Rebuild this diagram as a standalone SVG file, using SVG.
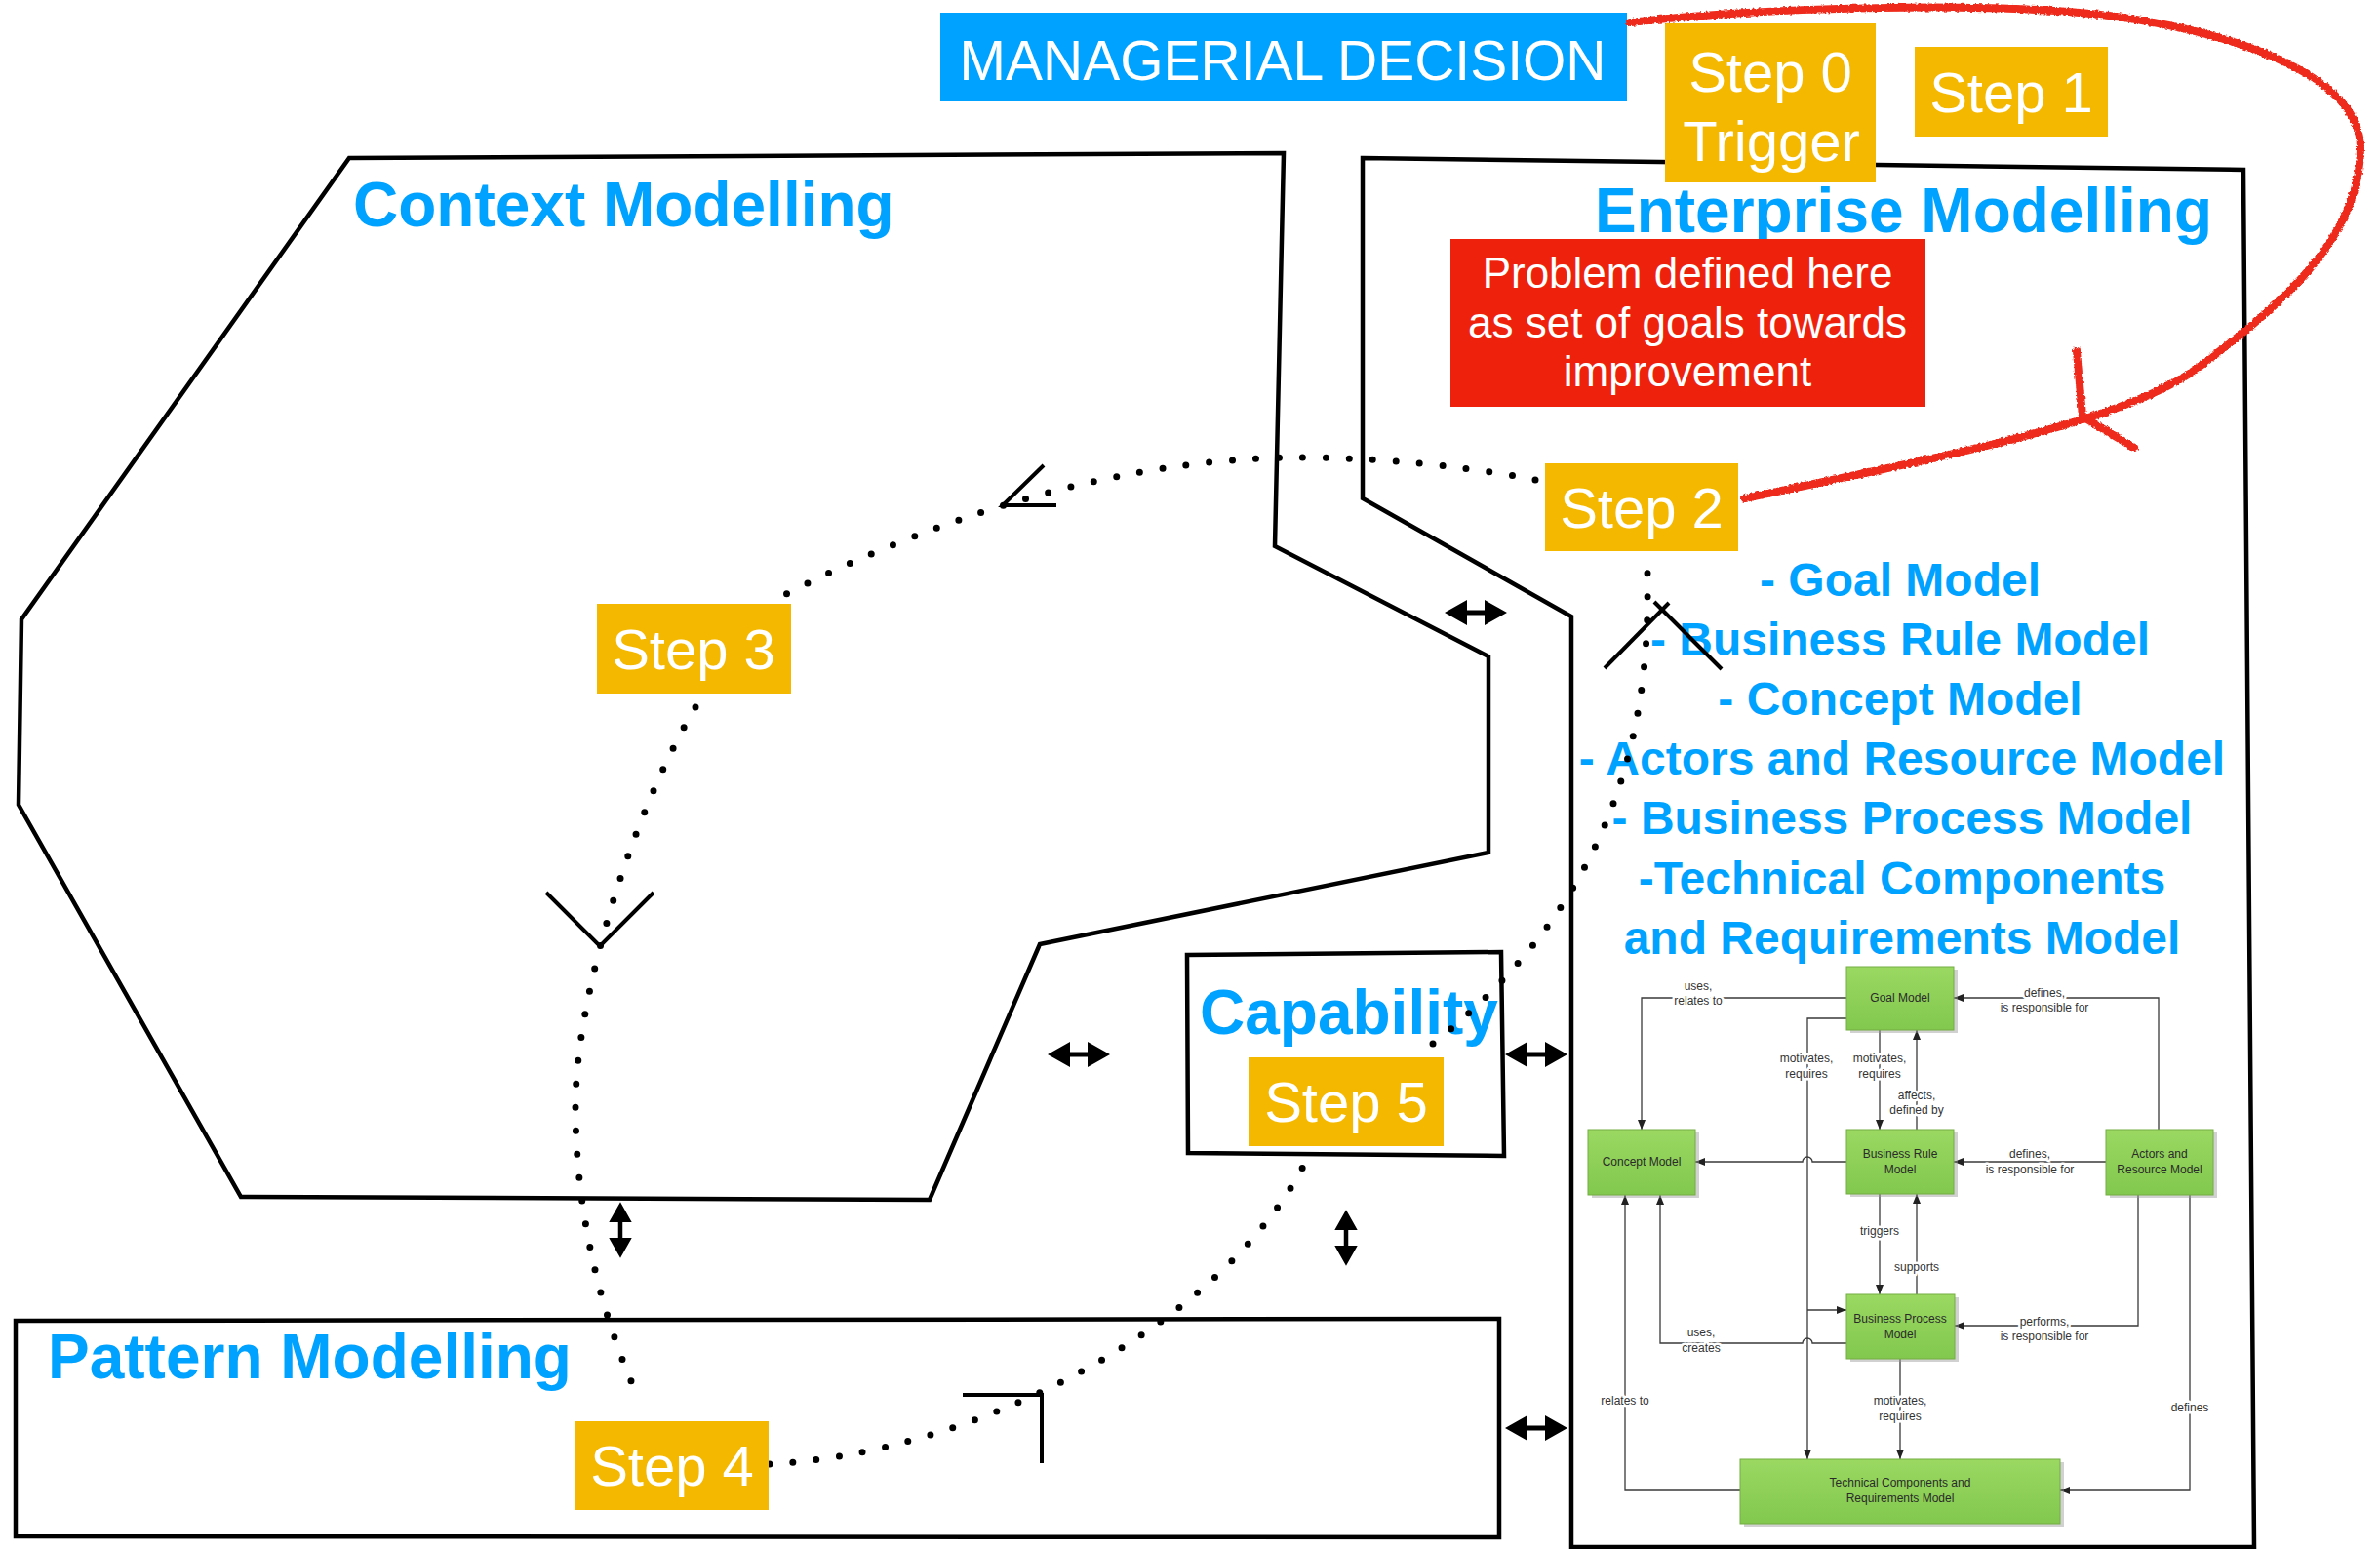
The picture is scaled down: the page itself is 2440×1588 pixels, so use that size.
<svg xmlns="http://www.w3.org/2000/svg" width="2440" height="1588" viewBox="0 0 2440 1588">
<defs>
<style>
.blk{fill:none;stroke:#000;stroke-width:4.5;stroke-linejoin:miter}
.ttl{font-family:'Liberation Sans',Arial,sans-serif;font-weight:bold;font-size:64px;fill:#00a2ff}
.lst{font-family:'Liberation Sans',Arial,sans-serif;font-weight:bold;font-size:48px;fill:#00a2ff;text-anchor:middle}
.stepbox{fill:#f5b800}
.stxt{font-family:'Liberation Sans',Arial,sans-serif;font-size:58px;fill:#fff;text-anchor:middle}
.wtxt{font-family:'Liberation Sans',Arial,sans-serif;fill:#fff;text-anchor:middle}
.dots{fill:none;stroke:#000;stroke-width:7;stroke-linecap:round;stroke-dasharray:0 24}
.ahd{fill:none;stroke:#000;stroke-width:4}
.gbox{fill:url(#gg);stroke:#74ad45;stroke-width:1}
.gsh{fill:#9a9a9a;opacity:0.45}
.gtx{font-family:'Liberation Sans',Arial,sans-serif;font-size:12px;fill:#2a2a2a;text-anchor:middle}
.gl{fill:none;stroke:#3a3a3a;stroke-width:1.3}
.glb{font-family:'Liberation Sans',Arial,sans-serif;font-size:12px;fill:#333;text-anchor:middle;paint-order:stroke;stroke:#fff;stroke-width:5px;stroke-linejoin:round}
.red{fill:none;stroke:#ee2a1b;stroke-width:8;stroke-linecap:round;stroke-linejoin:round}
</style>
<linearGradient id="gg" x1="0" y1="0" x2="0" y2="1">
<stop offset="0" stop-color="#9ad862"/>
<stop offset="1" stop-color="#82c84e"/>
</linearGradient>
<filter id="rough" x="-5%" y="-5%" width="110%" height="110%">
<feTurbulence type="fractalNoise" baseFrequency="0.35" numOctaves="2" seed="3" result="n"/>
<feDisplacementMap in="SourceGraphic" in2="n" scale="4" xChannelSelector="R" yChannelSelector="G"/>
</filter>
<marker id="ar" markerUnits="userSpaceOnUse" markerWidth="10" markerHeight="8" refX="10" refY="4" orient="auto">
<path d="M0,0 L10,4 L0,8 Z" fill="#222"/>
</marker>
<path id="dbl" d="M-32,0 L-9,-13 L-9,-2.5 L9,-2.5 L9,-13 L32,0 L9,13 L9,2.5 L-9,2.5 L-9,13 Z" fill="#000"/>
</defs>
<rect width="2440" height="1588" fill="#fff"/>

<g id="context-modelling">
<path class="blk" d="M358,162 L1316,157 L1307,560 L1526,673 L1526,874 L1066,968 L953,1230 L247,1227 L19,825 L22,635 Z"/>
<text class="ttl" x="362" y="232">Context Modelling</text>
</g>

<g id="enterprise-modelling">
<path class="blk" d="M1397,162 L2300,174 L2311,1586 L1611,1586 L1611,632 L1397,511 Z"/>
<text class="ttl" x="1635" y="238">Enterprise Modelling</text>
</g>

<g id="pattern-modelling">
<path class="blk" d="M16,1354 L1537,1352 L1537,1576 L16,1575 Z"/>
<text class="ttl" x="49" y="1413">Pattern Modelling</text>
</g>

<g id="capability">
<path class="blk" d="M1217,979 L1539,976 L1542,1185 L1218,1182 Z"/>
<text class="ttl" x="1230" y="1060">Capability</text>
</g>

<g id="model-list">
<text class="lst" x="1948" y="611">- Goal Model</text>
<text class="lst" x="1948" y="672">- Business Rule Model</text>
<text class="lst" x="1948" y="733">- Concept Model</text>
<text class="lst" x="1950" y="794">- Actors and Resource Model</text>
<text class="lst" x="1950" y="855">- Business Process Model</text>
<text class="lst" x="1950" y="917">-Technical Components</text>
<text class="lst" x="1950" y="978">and Requirements Model</text>
</g>

<g id="managerial-decision">
<rect x="964" y="13" width="704" height="91" fill="#00a2ff"/>
<text class="wtxt" x="1315" y="82" font-size="57">MANAGERIAL DECISION</text>
</g>

<g id="problem">
<rect x="1487" y="245" width="487" height="172" fill="#ee220c"/>
<text class="wtxt" x="1730" y="295" font-size="44">Problem defined here</text>
<text class="wtxt" x="1730" y="346" font-size="44">as set of goals towards</text>
<text class="wtxt" x="1730" y="396" font-size="44">improvement</text>
</g>

<g id="cycle" class="connectors">
<path class="dots" d="M1574,492 C1494,476 1400,469 1334,469 C1150,469 960,530 806,609"/>
<path class="dots" d="M713,725 C650,830 590,1020 590,1134 C590,1260 625,1370 656,1436"/>
<path class="dots" d="M789,1501 C1000,1490 1250,1360 1337,1194"/>
<path class="dots" d="M1469,1070 C1620,950 1692,800 1689,600 L1689,570"/>
</g>

<g id="step0">
<rect class="stepbox" x="1707" y="24" width="216" height="163"/>
<text class="stxt" x="1815" y="94">Step 0</text>
<text class="stxt" x="1816" y="165">Trigger</text>
</g>
<g id="step1">
<rect class="stepbox" x="1963" y="48" width="198" height="92"/>
<text class="stxt" x="2062" y="115">Step 1</text>
</g>
<g id="step2">
<rect class="stepbox" x="1584" y="475" width="198" height="90"/>
<text class="stxt" x="1683" y="541">Step 2</text>
</g>
<g id="step3">
<rect class="stepbox" x="612" y="619" width="199" height="92"/>
<text class="stxt" x="711" y="686">Step 3</text>
</g>
<g id="step4">
<rect class="stepbox" x="589" y="1457" width="199" height="91"/>
<text class="stxt" x="689" y="1523">Step 4</text>
</g>
<g id="step5">
<rect class="stepbox" x="1280" y="1084" width="200" height="91"/>
<text class="stxt" x="1380" y="1150">Step 5</text>
</g>

<g id="cycle-arrowheads" class="connectors">
<path class="ahd" d="M1070,477 L1028,518 L1083,518"/>
<path class="ahd" d="M560,915 L615,970 L670,915"/>
<path class="ahd" d="M987,1430 H1068 V1500"/>
<path class="ahd" d="M1645,685 L1711,618"/>
<path class="ahd" d="M1696,617 L1765,686"/>
</g>

<g id="relation-arrows" class="connectors">
<use href="#dbl" transform="translate(1513,628)"/>
<use href="#dbl" transform="translate(1106,1081)"/>
<use href="#dbl" transform="translate(1575,1081)"/>
<use href="#dbl" transform="translate(1575,1464)"/>
<use href="#dbl" transform="translate(636,1261) rotate(90) scale(0.9)"/>
<use href="#dbl" transform="translate(1380,1269) rotate(90) scale(0.9)"/>
</g>

<g id="trigger-loop" class="connectors" filter="url(#rough)">
<path class="red" d="M1671,23 C1800,8 2050,0 2177,18 C2300,36 2420,80 2420,152 C2420,242 2342,310 2256,375 C2180,434 1980,470 1789,511"/>
<path class="red" d="M2129,360 L2135,427 L2188,459"/>
</g>

<g id="em-connectors" class="connectors">
<path class="gl" marker-end="url(#ar)" d="M1893,1023 H1683 V1158"/>
<path class="gl" marker-end="url(#ar)" d="M2213,1158 V1023 H2003"/>
<path class="gl" marker-end="url(#ar)" d="M1893,1044 H1853 V1496"/>
<path class="gl" marker-end="url(#ar)" d="M1853,1343 H1893"/>
<path class="gl" marker-end="url(#ar)" d="M1927,1056 V1158"/>
<path class="gl" marker-end="url(#ar)" d="M1965,1158 V1056"/>
<path class="gl" marker-end="url(#ar)" d="M1893,1191 H1858 A5,5 0 0 0 1848,1191 H1738"/>
<path class="gl" marker-end="url(#ar)" d="M2159,1191 H2003"/>
<path class="gl" marker-end="url(#ar)" d="M1927,1224 V1327"/>
<path class="gl" marker-end="url(#ar)" d="M1965,1327 V1224"/>
<path class="gl" marker-end="url(#ar)" d="M2192,1225 V1359 H2004"/>
<path class="gl" marker-end="url(#ar)" d="M2245,1225 V1528 H2112"/>
<path class="gl" marker-end="url(#ar)" d="M1784,1528 H1666 V1225"/>
<path class="gl" marker-end="url(#ar)" d="M1893,1377 H1858 A5,5 0 0 0 1848,1377 H1702 V1225"/>
<path class="gl" marker-end="url(#ar)" d="M1948,1393 V1496"/>
<text class="glb" x="1741" y="1015">uses,</text>
<text class="glb" x="1741" y="1030">relates to</text>
<text class="glb" x="2096" y="1022">defines,</text>
<text class="glb" x="2096" y="1037">is responsible for</text>
<text class="glb" x="1852" y="1089">motivates,</text>
<text class="glb" x="1852" y="1105">requires</text>
<text class="glb" x="1927" y="1089">motivates,</text>
<text class="glb" x="1927" y="1105">requires</text>
<text class="glb" x="1965" y="1127">affects,</text>
<text class="glb" x="1965" y="1142">defined by</text>
<text class="glb" x="2081" y="1187">defines,</text>
<text class="glb" x="2081" y="1203">is responsible for</text>
<text class="glb" x="1927" y="1266">triggers</text>
<text class="glb" x="1965" y="1303">supports</text>
<text class="glb" x="2096" y="1359">performs,</text>
<text class="glb" x="2096" y="1374">is responsible for</text>
<text class="glb" x="2245" y="1447">defines</text>
<text class="glb" x="1666" y="1440">relates to</text>
<text class="glb" x="1744" y="1370">uses,</text>
<text class="glb" x="1744" y="1386">creates</text>
<text class="glb" x="1948" y="1440">motivates,</text>
<text class="glb" x="1948" y="1456">requires</text>
</g>

<g id="em-goal-model">
<rect class="gsh" x="1897" y="994" width="110" height="65"/>
<rect class="gbox" x="1893" y="991" width="110" height="65"/>
<text class="gtx" x="1948" y="1027">Goal Model</text>
</g>
<g id="em-concept-model">
<rect class="gsh" x="1632" y="1161" width="110" height="67"/>
<rect class="gbox" x="1628" y="1158" width="110" height="67"/>
<text class="gtx" x="1683" y="1195">Concept Model</text>
</g>
<g id="em-business-rule-model">
<rect class="gsh" x="1897" y="1161" width="110" height="66"/>
<rect class="gbox" x="1893" y="1158" width="110" height="66"/>
<text class="gtx" x="1948" y="1187">Business Rule</text>
<text class="gtx" x="1948" y="1203">Model</text>
</g>
<g id="em-actors-resource-model">
<rect class="gsh" x="2163" y="1161" width="110" height="67"/>
<rect class="gbox" x="2159" y="1158" width="110" height="67"/>
<text class="gtx" x="2214" y="1187">Actors and</text>
<text class="gtx" x="2214" y="1203">Resource Model</text>
</g>
<g id="em-business-process-model">
<rect class="gsh" x="1897" y="1330" width="111" height="66"/>
<rect class="gbox" x="1893" y="1327" width="111" height="66"/>
<text class="gtx" x="1948" y="1356">Business Process</text>
<text class="gtx" x="1948" y="1372">Model</text>
</g>
<g id="em-technical-components-model">
<rect class="gsh" x="1788" y="1499" width="328" height="66"/>
<rect class="gbox" x="1784" y="1496" width="328" height="66"/>
<text class="gtx" x="1948" y="1524">Technical Components and</text>
<text class="gtx" x="1948" y="1540">Requirements Model</text>
</g>
</svg>
